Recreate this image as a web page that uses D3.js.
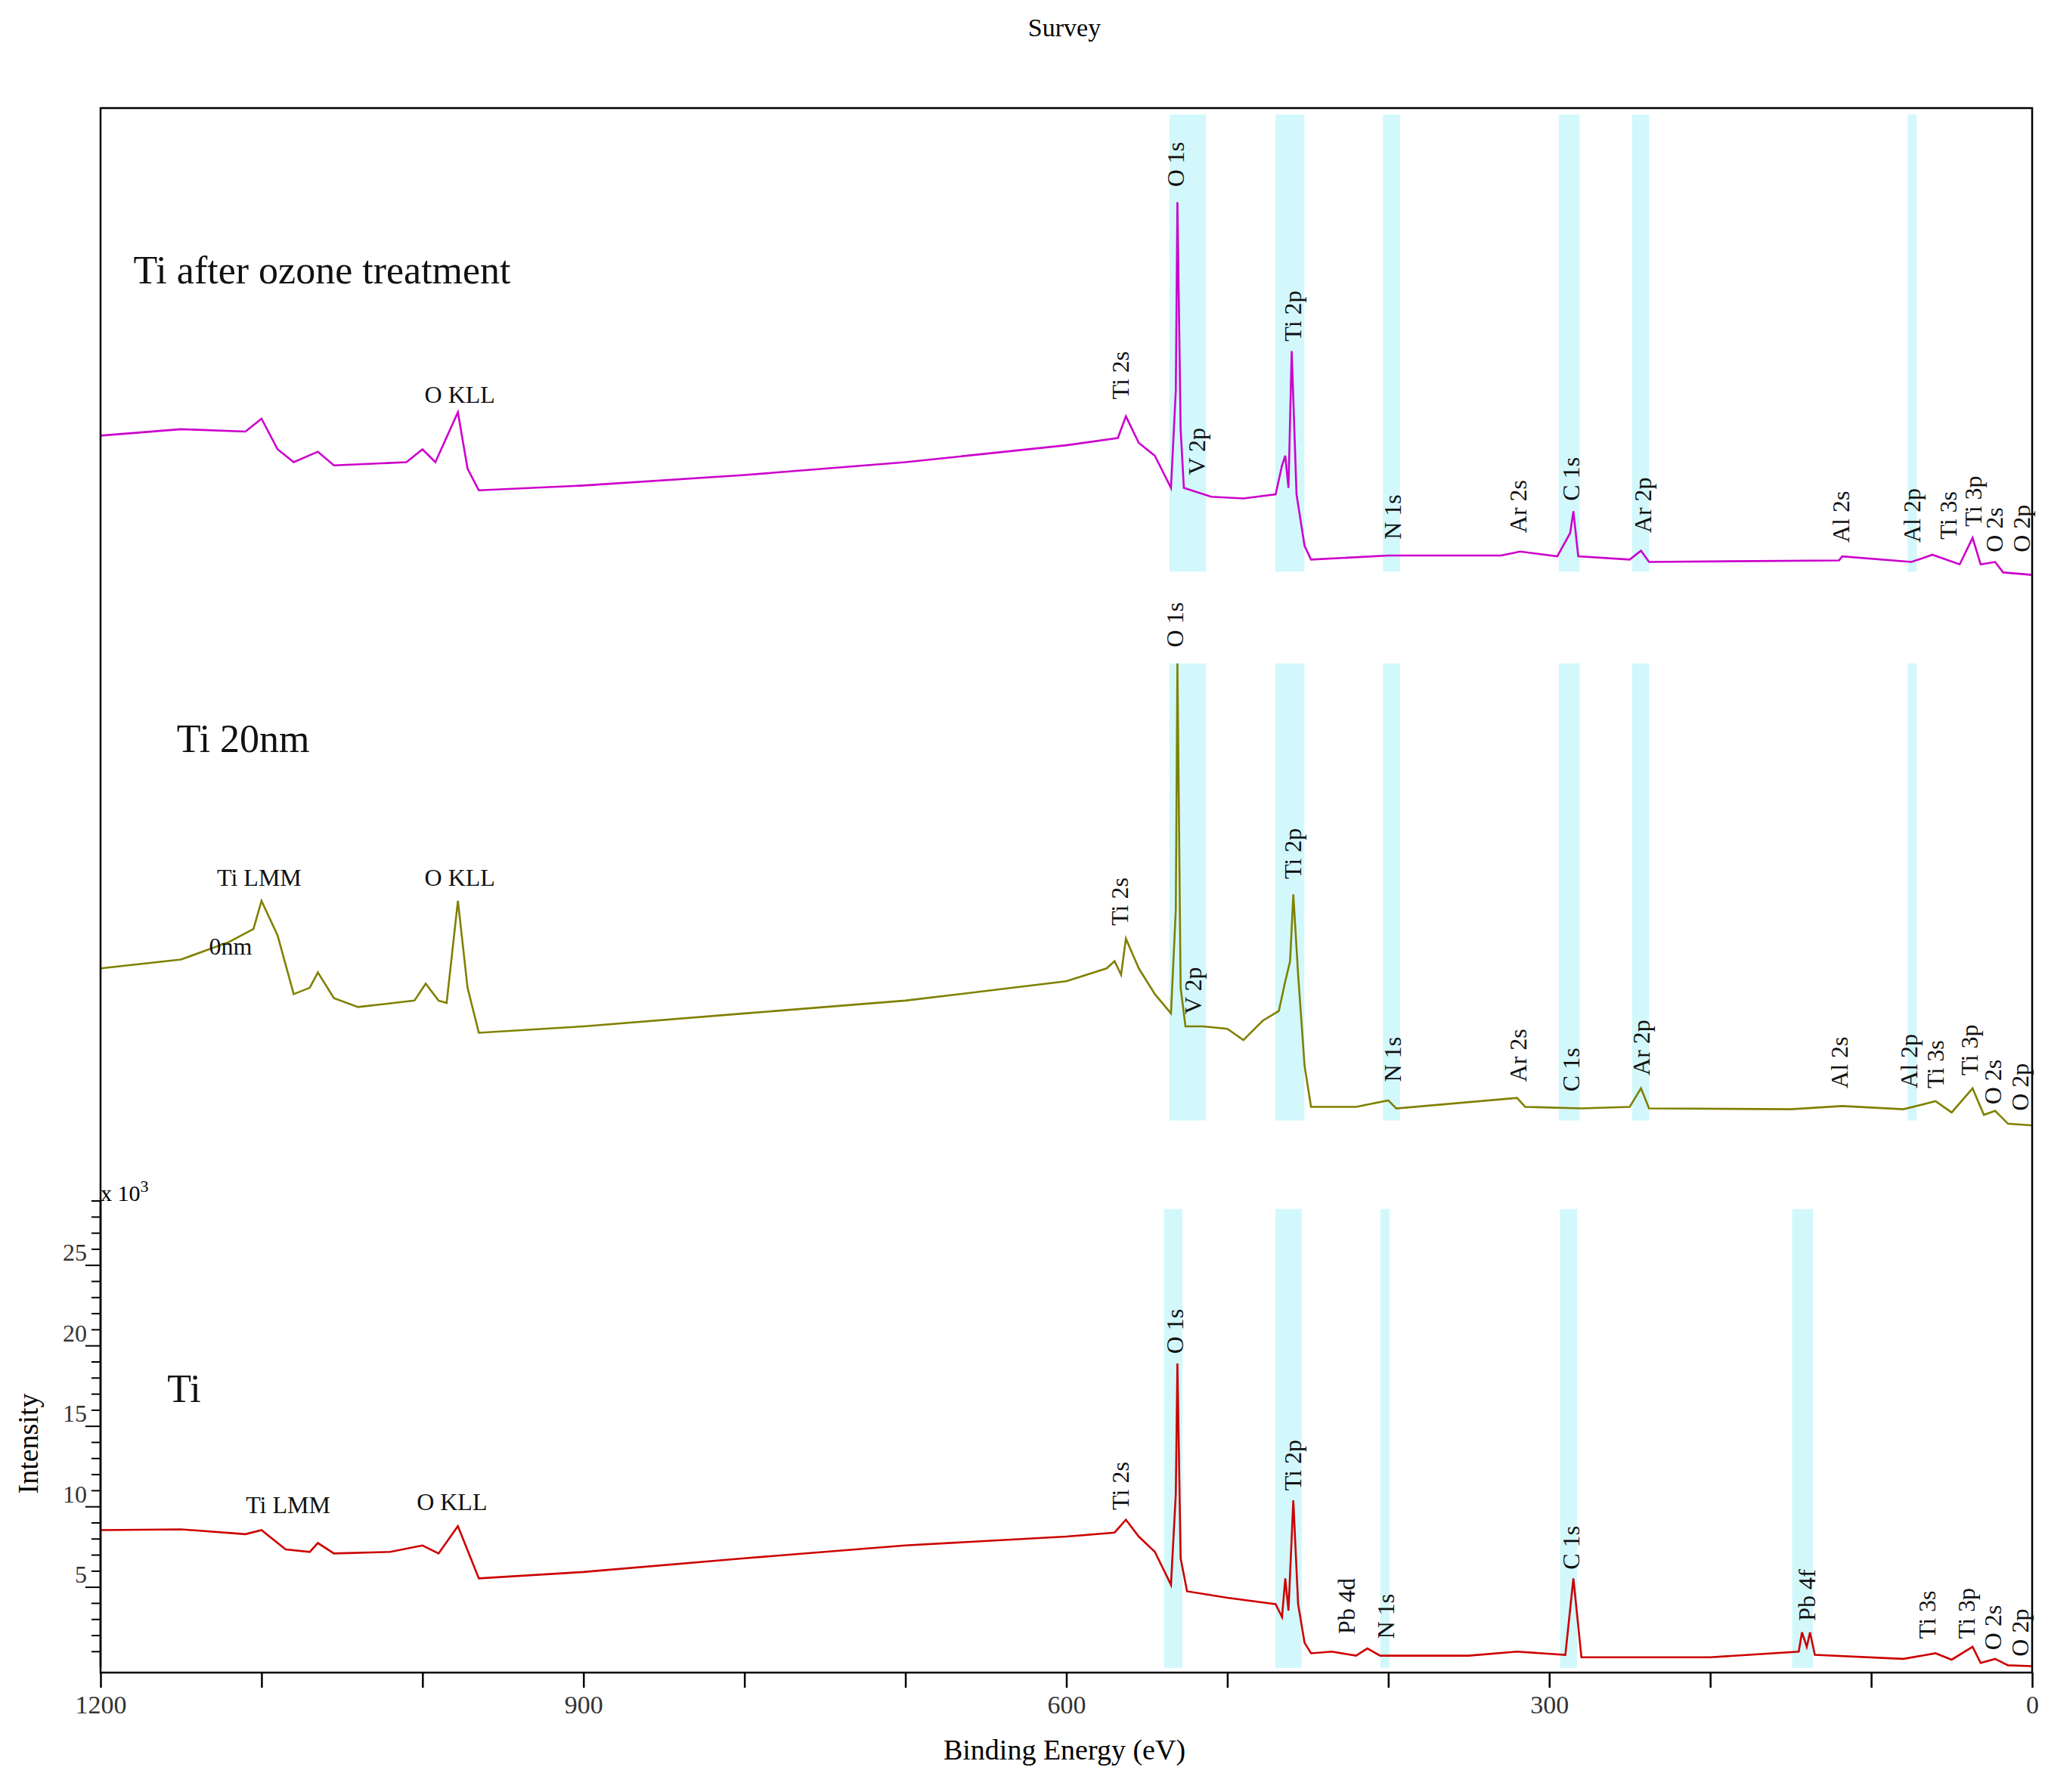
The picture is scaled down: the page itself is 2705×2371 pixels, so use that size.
<!DOCTYPE html>
<html><head><meta charset="utf-8">
<script src="https://cdn.jsdelivr.net/npm/d3@7"></script>
<style>body{margin:0;background:#fff}svg{font-family:"Liberation Serif",serif}</style>
</head><body>
<svg id="c" width="2705" height="2371"></svg>
<script>
// Binding energy (eV) and intensity (x10^3 counts, stacked display offsets included)
const tiBE =   [1200,1150,1110,1100,1085,1070,1065,1055,1020,1000,990,978,970,965,900,800,700,600,570,563,555,545,535,532,531,529,525,500,470,466,464,462,459,456,452,448,435,420,413,405,350,320,290,285,280,200,145,143,140,138,135,80,60,50,37,32,23,15,0];
const tiVal =  [8.55,8.6,8.3,8.55,7.35,7.2,7.75,7.1,7.2,7.6,7.1,8.8,6.8,5.55,5.95,6.8,7.6,8.15,8.4,9.2,8.15,7.2,5.15,10.8,18.9,6.8,4.75,4.35,3.95,3.15,5.55,3.55,10.4,3.95,1.55,0.9,1.0,0.75,1.2,0.75,0.75,1.0,0.8,5.55,0.65,0.65,1.0,2.2,1.3,2.2,0.8,0.55,0.9,0.5,1.3,0.3,0.55,0.15,0.1];
const ti20BE = [1200,1150,1120,1105,1100,1090,1080,1070,1065,1055,1040,1005,998,990,985,978,972,965,900,800,700,600,575,570,566,563,555,545,535,532,531,529,526,515,500,490,478,468,464,461,459,456,452,448,420,400,395,320,315,280,250,243,238,150,118,80,60,50,37,30,23,15,0];
const ti20Val= [43.45,44.0,45.1,45.9,47.65,45.5,41.85,42.25,43.2,41.6,41.05,41.45,42.5,41.45,41.3,47.65,42.25,39.45,39.85,40.65,41.45,42.65,43.45,43.9,43.05,45.3,43.45,41.85,40.65,47.1,62.4,42.25,39.85,39.85,39.7,39.0,40.2,40.8,42.65,43.9,48.05,43.05,37.4,34.85,34.85,35.25,34.75,35.4,34.85,34.75,34.85,36.0,34.75,34.7,34.9,34.7,35.2,34.5,36.0,34.35,34.6,33.8,33.7];
const ozBE =   [1200,1150,1110,1100,1090,1080,1065,1055,1010,1000,992,978,972,965,900,800,700,600,568,563,555,545,535,532,531,529,527,510,490,470,466,464,462,460,457,452,448,400,330,318,295,287,285,282,250,243,238,120,118,75,62,45,37,32,23,18,0];
const ozVal =  [76.55,76.95,76.8,77.6,75.7,74.9,75.55,74.7,74.9,75.7,74.9,78.0,74.5,73.15,73.45,74.1,74.9,75.95,76.4,77.75,76.1,75.3,73.3,79.35,91.05,76.95,73.3,72.75,72.65,72.9,74.7,75.3,73.3,81.8,72.9,69.7,68.85,69.1,69.1,69.35,69.05,70.5,71.85,69.05,68.85,69.4,68.7,68.8,69.05,68.7,69.15,68.55,70.2,68.55,68.7,68.05,67.9];

const seriesColors = ["#cc00cc","#808000","#cc0000"];
const seriesTitles = ["Ti after ozone treatment","Ti 20nm","Ti"];
const titleBE = [1179.6,1152.7,1158.5];
const titleVal = [86.0,56.9,16.5];

// shaded regions: [BE high, BE low]
const bandsOz = [[536,513.2],[470.1,452.1],[403.3,392.7],[294.1,281.1],[248.5,237.9],[77.4,71.7]];
const bandsTi = [[539.3,527.9],[470.1,453.8],[404.9,399.2],[293.3,282.7],[149.1,136.1]];
const bandRanges = [[68.1,96.5],[34.0,62.4],[0,28.5]];

// peak labels: [text, BE, value]
const labelsOz = [["O 1s",531.9,92.0],["Ti 2s",566.2,78.8],["V 2p",518.9,74.1],["Ti 2p",459.4,82.4],["N 1s",397.5,70.1],["Ar 2s",319.3,70.5],["C 1s",286.7,72.5],["Ar 2p",241.9,70.5],["Al 2s",118.9,69.9],["Al 2p",74.9,69.9],["Ti 3s",52.1,70.1],["Ti 3p",36.6,70.9],["O 2s",23.6,69.3],["O 2p",6.5,69.3]];
const labels20 = [["O 1s",532.8,63.4],["Ti 2s",567,46.1],["V 2p",521.4,40.6],["Ti 2p",459.4,49.0],["N 1s",397.5,36.4],["Ar 2s",319.3,36.4],["C 1s",286.7,35.8],["Ar 2p",242.7,36.8],["Al 2s",119.7,36.0],["Al 2p",76.5,36.0],["Ti 3s",60.3,36.0],["Ti 3p",39.2,36.8],["O 2s",24.4,35.0],["O 2p",7.3,34.6]];
const labelsTi = [["O 1s",532.8,19.5],["Ti 2s",566.2,9.8],["Ti 2p",459.4,11.0],["Pb 4d",426.1,2.1],["N 1s",401.6,1.8],["C 1s",286.7,6.1],["Pb 4f",140.1,2.9],["Ti 3s",65.1,1.8],["Ti 3p",40.7,1.8],["O 2s",24.4,1.1],["O 2p",7.3,0.7]];
// horizontal labels: [text, BE center, value baseline]
const hLabels = [["O KLL",976.8,78.6],["Ti LMM",1101.4,48.6],["O KLL",976.8,48.6],["0nm",1119.3,44.3],["Ti LMM",1083.5,9.6],["O KLL",981.7,9.8]];

const xTicks = [1200,1100,1000,900,800,700,600,500,400,300,200,100,0];
const xTickLabels = [1200,900,600,300,0];
const yMajor = [5,10,15,20,25];

const svg = d3.select("#c");
const L=133,R=2688,T=143,B=2213;
const x = d3.scaleLinear().domain([1200,0]).range([L,R]);
const y = d3.scaleLinear().domain([-0.3,96.9]).range([B,T]);

// bands
const allBands=[bandsOz,bandsOz,bandsTi];
allBands.forEach((bs,i)=>{
  svg.append("g").selectAll("rect").data(bs).join("rect")
    .attr("x",d=>x(d[0])).attr("width",d=>x(d[1])-x(d[0]))
    .attr("y",y(bandRanges[i][1])).attr("height",y(bandRanges[i][0])-y(bandRanges[i][1]))
    .attr("fill","#d2f8fb");
});

// lines
const data=[[ozBE,ozVal],[ti20BE,ti20Val],[tiBE,tiVal]];
const line=d3.line().x(d=>x(d[0])).y(d=>y(d[1]));
data.forEach((s,i)=>{
  const pts=s[0].map((b,j)=>[b,s[1][j]]);
  svg.append("path").attr("d",line(pts)).attr("fill","none").attr("stroke",seriesColors[i]).attr("stroke-width",2.6);
});

// frame
svg.append("rect").attr("x",L).attr("y",T).attr("width",R-L).attr("height",B-T).attr("fill","none").attr("stroke","#000").attr("stroke-width",2.5);

// x axis
const xa=svg.append("g").attr("transform",`translate(0,${B})`).call(d3.axisBottom(x).tickValues(xTicks).tickSize(20).tickFormat(d=>xTickLabels.includes(d)?d:""));
xa.select(".domain").remove();
xa.selectAll("line").attr("stroke-width",2.5);
xa.selectAll("text").attr("font-size",34).attr("font-family","Liberation Serif").attr("dy","0.9em").attr("fill","#333");

// y axis
const ya=svg.append("g").attr("transform",`translate(${L},0)`);
ya.append("line").attr("x1",0).attr("x2",0).attr("y1",y(0)).attr("y2",y(29)).attr("stroke","#000").attr("stroke-width",2.5);
ya.selectAll("line.mn").data(d3.range(1,30)).join("line").attr("class","mn")
  .attr("x1",d=>yMajor.includes(d)?-20:-12).attr("x2",0).attr("y1",d=>y(d)).attr("y2",d=>y(d)).attr("stroke","#000").attr("stroke-width",2);
ya.selectAll("text").data(yMajor).join("text").attr("x",-18).attr("y",d=>y(d)-6).attr("text-anchor","end")
  .attr("font-size",32).attr("fill","#333").text(d=>d);
svg.append("text").attr("x",L).attr("y",y(29.0)).attr("font-size",30).html('x 10<tspan dy="-12" font-size="22">3</tspan>');

// titles
svg.append("text").attr("x",1408).attr("y",48).attr("text-anchor","middle").attr("font-size",34).text("Survey");
svg.append("text").attr("x",1408).attr("y",2328).attr("text-anchor","middle").attr("font-size",38).text("Binding Energy (eV)");
svg.append("text").attr("transform","translate(50,1910) rotate(-90)").attr("text-anchor","middle").attr("font-size",38).text("Intensity");

seriesTitles.forEach((t,i)=>{
  svg.append("text").attr("x",x(titleBE[i])).attr("y",y(titleVal[i])).attr("font-size",52).attr("fill","#111").text(t);
});

// peak labels
[labelsOz,labels20,labelsTi].forEach(ls=>{
  svg.append("g").selectAll("text").data(ls).join("text")
    .attr("transform",d=>`translate(${x(d[1])+11},${y(d[2])}) rotate(-90)`)
    .attr("font-size",32).attr("fill","#111").text(d=>d[0]);
});
svg.append("g").selectAll("text").data(hLabels).join("text")
  .attr("x",d=>x(d[1])).attr("y",d=>y(d[2])).attr("text-anchor","middle").attr("font-size",32).attr("fill","#111").text(d=>d[0]);
</script></body></html>
